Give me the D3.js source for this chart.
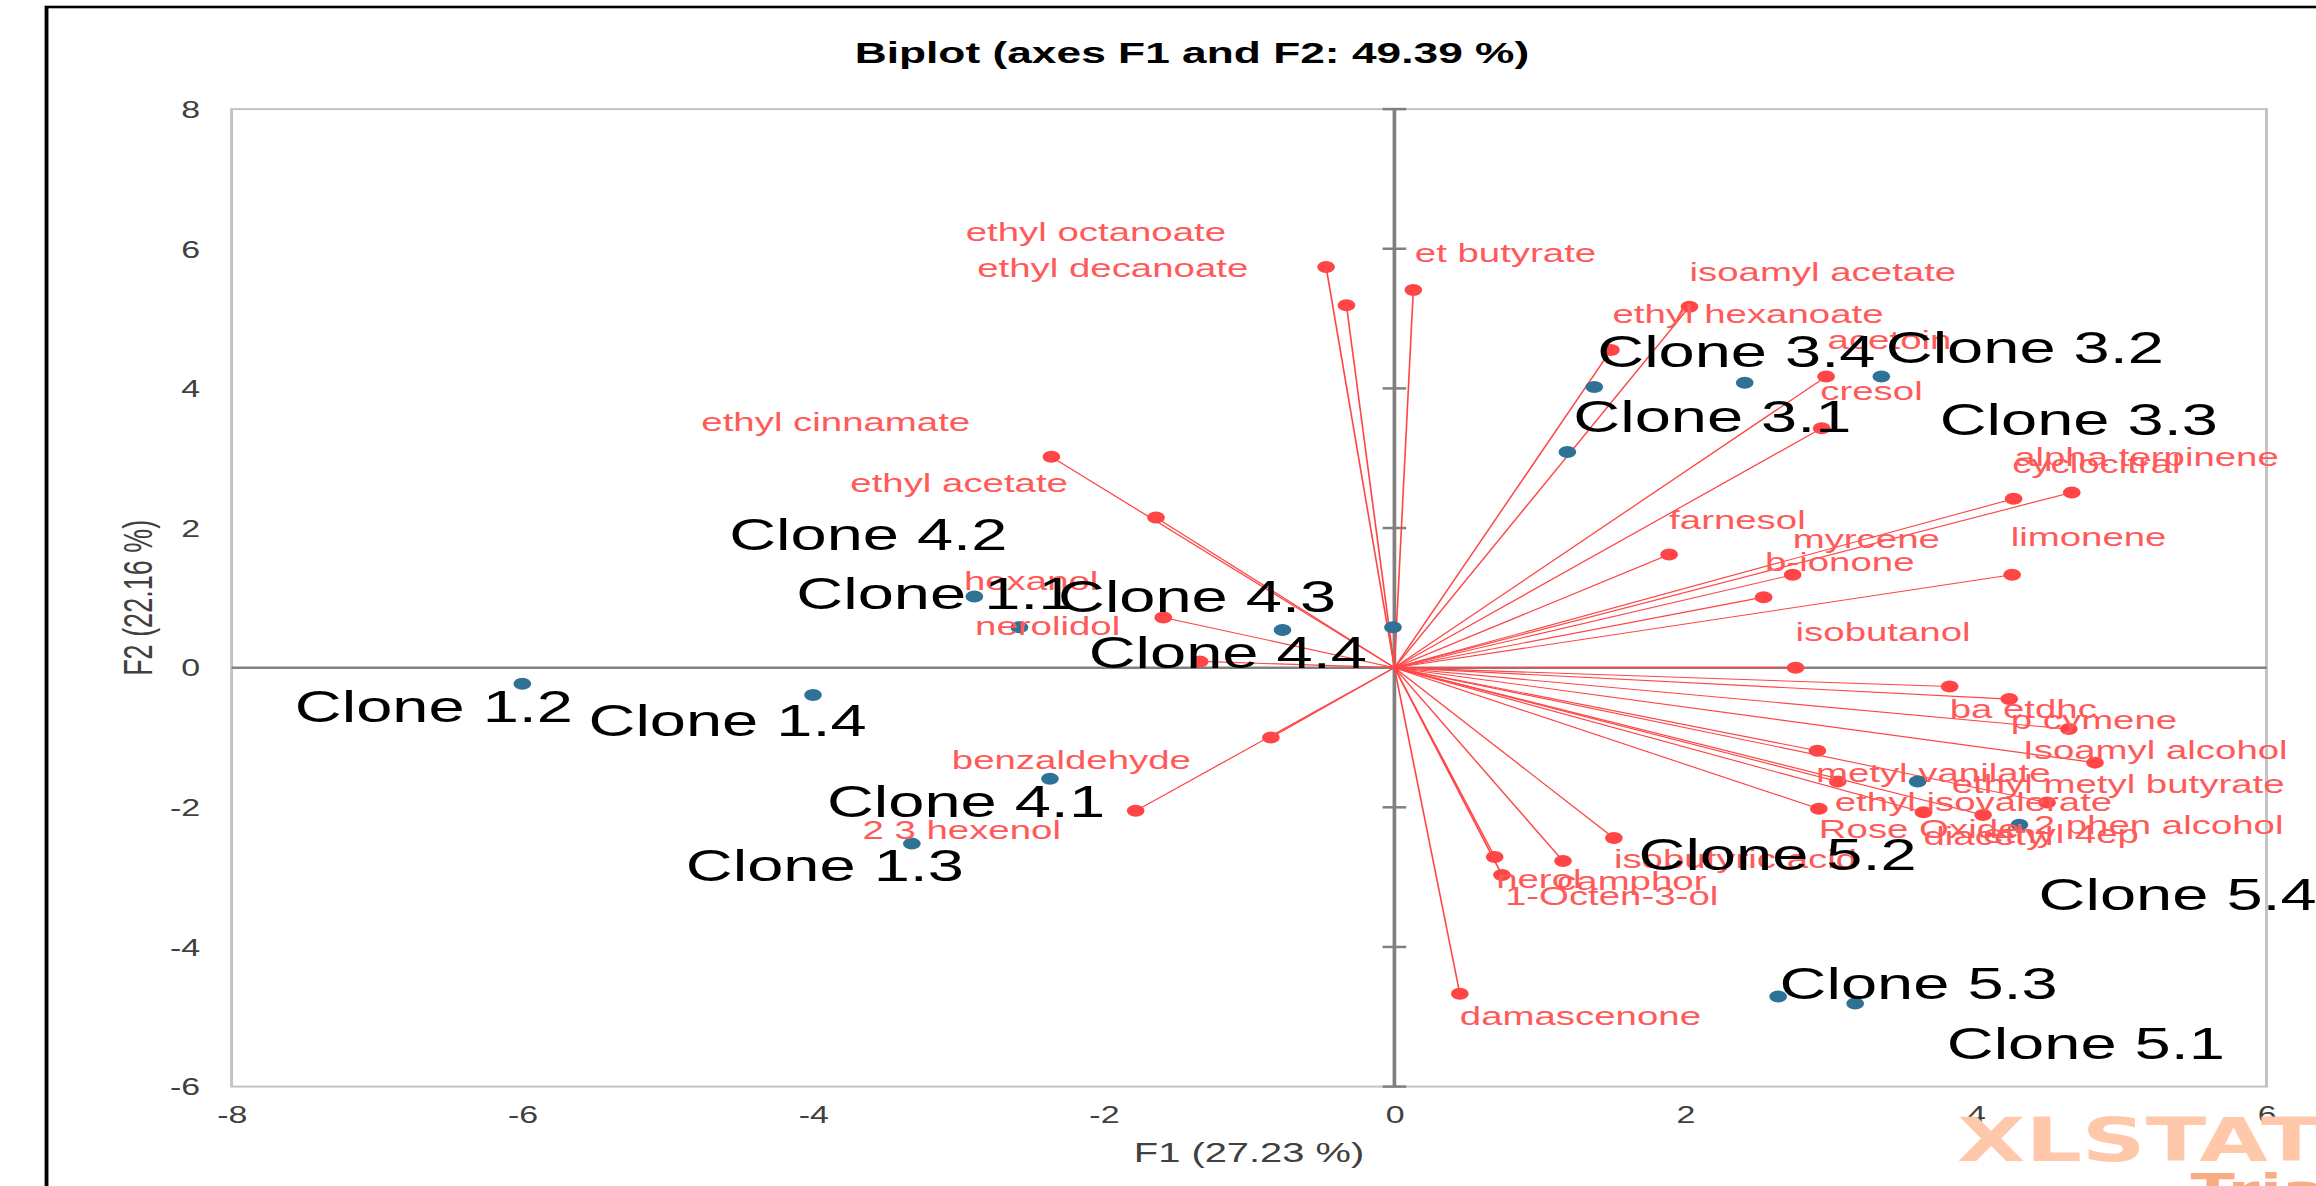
<!DOCTYPE html>
<html>
<head>
<meta charset="utf-8">
<script src="https://cdn.jsdelivr.net/npm/d3@7"></script>
<style>
  html, body { margin: 0; padding: 0; background: #ffffff; }
  svg { display: block; }
  text { font-family: "Liberation Sans", Arial, sans-serif; }
</style>
</head>
<body>
<svg id="chart"></svg>
<script>
// Variables (red vectors): name, F1 and F2 coordinates
const variableNames = ["ethyl octanoate", "ethyl decanoate", "et butyrate", "isoamyl acetate", "ethyl hexanoate",
    "acetoin", "cresol", "alpha terpinene", "cyclocitral", "farnesol", "myrcene", "b-ionone", "limonene",
    "isobutanol", "ba etdhc", "p cymene", "Isoamyl alcohol", "ethyl metyl butyrate", "metyl vanilate",
    "ethyl isovalerate", "2 phen alcohol", "Rose Oxide", "diacetyl", "ethyl 4ep", "isobutyric acid", "nerol",
    "camphor", "1-Octen-3-ol", "damascenone", "ethyl cinnamate", "ethyl acetate", "hexanol", "nerolidol",
    "benzaldehyde", "2 3 hexenol"];
const variableF1 = [-0.47, -0.33, 0.13, 2.03, 1.49, 2.97, 2.94, 4.66, 4.26, 1.89, 2.74, 2.54, 4.25,
    2.76, 3.82, 4.23, 4.64, 4.82, 2.91, 3.05, 4.49, 2.92, 3.64, 4.05, 1.51, 0.69,
    1.16, 0.74, 0.45, -2.36, -1.64, -1.59, -1.34, -0.85, -1.78];
const variableF2 = [5.74, 5.19, 5.41, 5.17, 4.55, 4.17, 3.43, 2.51, 2.42, 1.62, 1.33, 1.01, 1.33,
    0.00, -0.27, -0.45, -0.88, -1.36, -1.19, -1.63, -1.93, -2.02, -2.07, -2.11, -2.44, -2.71,
    -2.77, -2.97, -4.67, 3.02, 2.15, 0.72, 0.09, -1.00, -2.05];

// Observations (blue points)
const cloneNames = ["Clone 1.1", "Clone 1.2", "Clone 1.3", "Clone 1.4", "Clone 3.1", "Clone 3.2", "Clone 3.3", "Clone 3.4",
    "Clone 4.1", "Clone 4.2", "Clone 4.3", "Clone 4.4", "Clone 5.1", "Clone 5.2", "Clone 5.3", "Clone 5.4"];
const cloneF1 = [-2.58, -6.00, -3.32, -4.00, 1.19, 3.35, 2.41, 1.375, -2.37, -2.89, -0.77, -0.01, 3.17, 3.60, 2.64, 4.30];
const cloneF2 = [0.58, -0.23, -2.52, -0.39, 3.09, 4.17, 4.08, 4.02, -1.59, 1.02, 0.54, 0.58, -4.81, -1.63, -4.71, -2.25];

// Axis ticks and texts
const xTicks = [-8, -6, -4, -2, 0, 2, 4, 6];
const yTicks = [-6, -4, -2, 0, 2, 4, 6, 8];
const chartTitle = "Biplot (axes F1 and F2: 49.39 %)";
const xTitle = "F1 (27.23 %)";
const yTitle = "F2 (22.16 %)";

// Where each label sits relative to its point (left edge, middle), in px
const variableLabelShift = {
    "ethyl octanoate": [-244, -35], "ethyl decanoate": [-250, -38], "et butyrate": [1, -37],
    "isoamyl acetate": [0, -35], "ethyl hexanoate": [1, -36], "acetoin": [1, -37], "cresol": [-1, -38],
    "alpha terpinene": [-39, -36], "cyclocitral": [-1, -35], "farnesol": [0, -35], "myrcene": [0, -36],
    "b-ionone": [1, -36], "limonene": [-1, -38], "isobutanol": [0, -36], "ba etdhc": [0, 22],
    "p cymene": [1, 21], "Isoamyl alcohol": [-31, 21], "ethyl metyl butyrate": [-97, 21],
    "metyl vanilate": [-1, 22], "ethyl isovalerate": [-2, 20], "2 phen alcohol": [-9, 22],
    "Rose Oxide": [0, 20], "diacetyl": [0, 23], "ethyl 4ep": [0, 19], "isobutyric acid": [0, 21],
    "nerol": [1, 22], "camphor": [-4, 20], "1-Octen-3-ol": [2, 21], "damascenone": [0, 22],
    "ethyl cinnamate": [-237, -35], "ethyl acetate": [-207, -35], "hexanol": [-135, -37],
    "nerolidol": [-152, -36], "benzaldehyde": [-216, 22], "2 3 hexenol": [-185, 19]
};
const cloneLabelShift = {
    "Clone 1.1": [-151, -34], "Clone 1.2": [-154, 22], "Clone 1.3": [-153, 22], "Clone 1.4": [-152, 25],
    "Clone 3.1": [4, -36], "Clone 3.2": [3, -29], "Clone 3.3": [132, 36], "Clone 3.4": [2, -36],
    "Clone 4.1": [-151, 22], "Clone 4.2": [-166, -62], "Clone 4.3": [-152, -34], "Clone 4.4": [-206, 25],
    "Clone 5.1": [62, 40], "Clone 5.2": [-189, 73], "Clone 5.3": [1, -13], "Clone 5.4": [13, 69]
};

/** Class drawing the biplot. */
class Biplot {
    constructor() {
        // the picture is stretched sideways, so draw in a narrower box and let the svg stretch it
        this.width = 2316;
        this.height = 1186;
        this.boxWidth = 1568;

        this.plot = { left: 156.8, right: 1534.5, top: 109.1, bottom: 1086.6 };

        this.red = "#ff4545";
        this.redText = "#ff5a5a";
        this.blue = "#2e7396";
        this.dotRadius = 6;
    }

    draw() {
        var svg = d3.select("#chart")
            .attr("width", this.width)
            .attr("height", this.height)
            .attr("viewBox", "0 0 " + this.boxWidth + " " + this.height)
            .attr("preserveAspectRatio", "none");

        svg.append("rect")
            .attr("width", this.boxWidth).attr("height", this.height)
            .attr("fill", "#ffffff");

        // outer frame (runs off the right and bottom edges)
        svg.append("rect")
            .attr("x", 31.5).attr("y", 7)
            .attr("width", 2000).attr("height", 2000)
            .attr("fill", "none")
            .attr("stroke", "#000").attr("stroke-width", 2.6);

        var x = d3.scaleLinear().domain([-8, 6]).range([this.plot.left, this.plot.right]);
        var y = d3.scaleLinear().domain([-6, 8]).range([this.plot.bottom, this.plot.top]);

        // plot border
        svg.append("rect")
            .attr("x", x(-8)).attr("y", y(8))
            .attr("width", x(6) - x(-8)).attr("height", y(-6) - y(8))
            .attr("fill", "none")
            .attr("stroke", "#c3c3c3").attr("stroke-width", 2);

        // tick labels
        var xAxis = d3.axisBottom(x).tickValues(xTicks).tickSize(0).tickFormat(d => String(d));
        var gx = svg.append("g").attr("transform", "translate(0,1115)").call(xAxis);
        gx.select(".domain").remove();
        gx.selectAll("text")
            .attr("y", 0).attr("dy", "0.36em")
            .style("font-family", "'Liberation Sans', Arial, sans-serif")
            .style("font-size", "23px").attr("fill", "#404040");

        var yAxis = d3.axisLeft(y).tickValues(yTicks).tickSize(0).tickFormat(d => String(d));
        var gy = svg.append("g").attr("transform", "translate(135.5,0)").call(yAxis);
        gy.select(".domain").remove();
        gy.selectAll("text")
            .attr("x", 0).attr("dy", "0.36em")
            .style("font-family", "'Liberation Sans', Arial, sans-serif")
            .style("font-size", "23px").attr("fill", "#404040");

        // zero lines
        svg.append("line")
            .attr("x1", x(-8)).attr("x2", x(6)).attr("y1", y(0)).attr("y2", y(0))
            .attr("stroke", "#808080").attr("stroke-width", 2.5);
        svg.append("line")
            .attr("x1", x(0)).attr("x2", x(0)).attr("y1", y(8)).attr("y2", y(-6))
            .attr("stroke", "#808080").attr("stroke-width", 2.5);
        svg.append("g").selectAll("line")
            .data(yTicks)
            .enter().append("line")
            .attr("x1", x(0) - 8).attr("x2", x(0) + 8)
            .attr("y1", d => y(d)).attr("y2", d => y(d))
            .attr("stroke", "#808080").attr("stroke-width", 2.5);

        var variables = variableNames.map((name, i) => ({ name: name, f1: variableF1[i], f2: variableF2[i] }));
        var clones = cloneNames.map((name, i) => ({ name: name, f1: cloneF1[i], f2: cloneF2[i] }));

        // vectors from the origin
        svg.append("g").selectAll("line")
            .data(variables)
            .enter().append("line")
            .attr("x1", x(0)).attr("y1", y(0))
            .attr("x2", d => x(d.f1)).attr("y2", d => y(d.f2))
            .attr("stroke", this.red).attr("stroke-width", 1.1);

        svg.append("g").selectAll("circle")
            .data(variables)
            .enter().append("circle")
            .attr("cx", d => x(d.f1)).attr("cy", d => y(d.f2))
            .attr("r", this.dotRadius)
            .attr("fill", this.red);

        svg.append("g").selectAll("circle")
            .data(clones)
            .enter().append("circle")
            .attr("cx", d => x(d.f1)).attr("cy", d => y(d.f2))
            .attr("r", this.dotRadius)
            .attr("fill", this.blue);

        // variable labels
        svg.append("g").selectAll("text")
            .data(variables)
            .enter().append("text")
            .attr("x", d => x(d.f1) + variableLabelShift[d.name][0])
            .attr("y", d => y(d.f2) + variableLabelShift[d.name][1])
            .attr("dy", "0.36em")
            .style("font-size", "26px")
            .attr("fill", this.redText)
            .text(d => d.name);

        // observation labels
        svg.append("g").selectAll("text")
            .data(clones)
            .enter().append("text")
            .attr("x", d => x(d.f1) + cloneLabelShift[d.name][0])
            .attr("y", d => y(d.f2) + cloneLabelShift[d.name][1])
            .attr("dy", "0.36em")
            .style("font-size", "44px")
            .attr("fill", "#000")
            .text(d => d.name);

        // titles
        svg.append("text")
            .attr("x", 807).attr("y", 52).attr("dy", "0.36em")
            .attr("text-anchor", "middle")
            .style("font-size", "30px").style("font-weight", "bold")
            .attr("fill", "#000")
            .text(chartTitle);

        svg.append("text")
            .attr("x", (x(-8) + x(6)) / 2).attr("y", 1152).attr("dy", "0.36em")
            .attr("text-anchor", "middle")
            .style("font-size", "27px")
            .attr("fill", "#404040")
            .text(xTitle);

        svg.append("text")
            .attr("transform", "translate(93.4," + ((y(8) + y(-6)) / 2) + ") rotate(-90)")
            .attr("dy", "0.36em")
            .attr("text-anchor", "middle")
            .style("font-size", "27px")
            .attr("fill", "#404040")
            .text(yTitle);

        // trial watermark
        svg.append("text")
            .attr("x", 1325).attr("y", 1161)
            .style("font-family", "'DejaVu Sans', sans-serif")
            .style("font-size", "60px").style("font-weight", "bold")
            .attr("fill", "#ffc8aa")
            .text("XLSTAT");
        svg.append("text")
            .attr("x", 1483).attr("y", 1206)
            .style("font-family", "'DejaVu Sans', sans-serif")
            .style("font-size", "44px").style("font-weight", "bold")
            .attr("fill", "#f9ab84")
            .text("Trial");
    }
}

var biplot = new Biplot();
biplot.draw();
</script>
</body>
</html>
